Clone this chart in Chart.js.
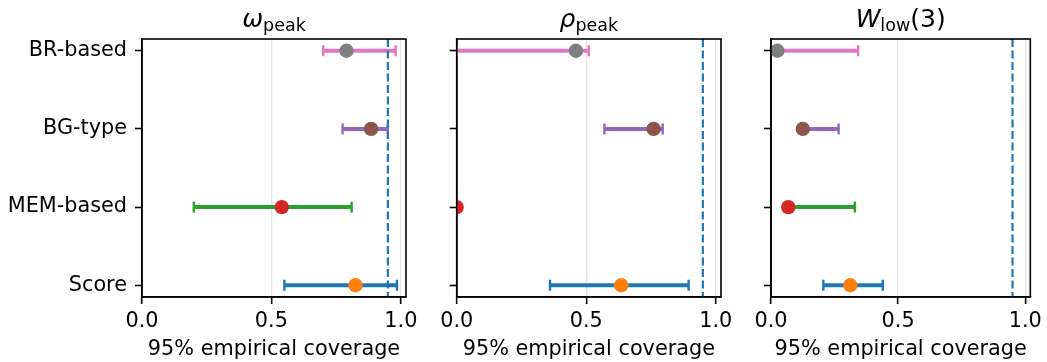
<!DOCTYPE html>
<html>
<head>
<meta charset="utf-8">
<script src="https://cdn.jsdelivr.net/npm/chart.js@4.4.1/dist/chart.umd.min.js"></script>
<style>
    html, body { margin: 0; padding: 0; background: #fff; }
    #figure { position: relative; width: 1047px; height: 362px; }
    #figure canvas { position: absolute; left: 0; top: 0; }
</style>
</head>
<body>
<div id="figure">
    <canvas id="panel-omega" width="1047" height="362"></canvas>
    <canvas id="panel-rho" width="1047" height="362"></canvas>
    <canvas id="panel-wlow" width="1047" height="362"></canvas>
</div>
<script>
const categories = ["BR-based", "BG-type", "MEM-based", "Score"];
const lineColors = ["#e377c2", "#9467bd", "#2ca02c", "#1f77b4"];
const markerColors = ["#7f7f7f", "#8c564b", "#d62728", "#ff7f0e"];
const xTicks = [0, 0.5, 1.0];
const nominalCoverage = 0.95;

const omegaEstimate = [0.79, 0.885, 0.54, 0.825];
const omegaLower = [0.70, 0.775, 0.20, 0.55];
const omegaUpper = [0.98, 0.95, 0.81, 0.985];

const rhoEstimate = [0.46, 0.76, 0.0, 0.635];
const rhoLower = [0.0, 0.57, 0.0, 0.36];
const rhoUpper = [0.51, 0.795, 0.0, 0.895];

const wlowEstimate = [0.025, 0.125, 0.068, 0.312];
const wlowLower = [0.0, 0.12, 0.068, 0.206];
const wlowUpper = [0.343, 0.266, 0.33, 0.44];

const FONT = "DejaVu Sans";
const TICK_SIZE = 20.8;
const TITLE_SIZE = 25;
const SUB_SIZE = 17.5;
const Y_MIN = -0.15;
const Y_MAX = 3.15;

// axes frame on all four sides, drawn over the data like matplotlib spines
const framePlugin = {
    id: "frame",
    afterDraw(chart) {
        const { ctx, chartArea } = chart;
        ctx.save();
        ctx.strokeStyle = "#000";
        ctx.lineWidth = 1.6;
        ctx.strokeRect(chartArea.left, chartArea.top,
            chartArea.right - chartArea.left, chartArea.bottom - chartArea.top);
        ctx.restore();
    }
};

// title with a mathtext-like subscript
const mathTitlePlugin = {
    id: "mathTitle",
    afterDraw(chart, args, opts) {
        if (!opts.parts) {
            return;
        }

        const { ctx, chartArea } = chart;
        const pieces = opts.parts.map(part => {
            const size = part.sub ? SUB_SIZE : TITLE_SIZE;
            const style = part.italic ? "italic " : "";
            return { text: part.text, sub: part.sub, font: `${style}${size}px "${FONT}"` };
        });

        ctx.save();
        let total = 0;
        pieces.forEach(piece => {
            ctx.font = piece.font;
            piece.width = ctx.measureText(piece.text).width;
            total += piece.width;
        });

        let x = (chartArea.left + chartArea.right) / 2 - total / 2;
        ctx.fillStyle = "#000";
        ctx.textBaseline = "alphabetic";
        ctx.textAlign = "left";
        pieces.forEach(piece => {
            ctx.font = piece.font;
            ctx.fillText(piece.text, x, piece.sub ? opts.baseline + 3.5 : opts.baseline);
            x += piece.width;
        });
        ctx.restore();
    }
};

function renderPanel(canvasId, panel) {
    const intervalSets = categories.map((name, i) => ({
        label: name,
        data: [{ x: panel.lower[i], y: i }, { x: panel.upper[i], y: i }],
        showLine: true,
        borderColor: lineColors[i],
        borderWidth: 4,
        pointStyle: "line",
        pointRotation: 90,
        pointRadius: 5.5,
        pointBorderWidth: 2.4,
        pointBorderColor: lineColors[i],
        order: 2,
        clip: 0
    }));

    const markerSet = {
        label: "estimate",
        data: panel.estimate.map((value, i) => ({ x: value, y: i })),
        showLine: false,
        pointRadius: 7.2,
        pointBackgroundColor: markerColors,
        pointBorderColor: markerColors,
        pointBorderWidth: 0,
        order: 1,
        clip: 0
    };

    const nominalSet = {
        label: "nominal",
        data: [{ x: nominalCoverage, y: Y_MIN }, { x: nominalCoverage, y: Y_MAX }],
        showLine: true,
        borderColor: "#1f77b4",
        borderWidth: 2.2,
        borderDash: [8, 3.5],
        pointRadius: 0,
        order: 0
    };

    new Chart(document.getElementById(canvasId), {
        type: "scatter",
        data: {
            datasets: [nominalSet, markerSet, ...intervalSets]
        },
        plugins: [framePlugin, mathTitlePlugin],
        options: {
            responsive: false,
            animation: false,
            events: [],
            layout: {
                padding: { left: panel.padLeft, right: panel.padRight, top: 39, bottom: 0 }
            },
            plugins: {
                legend: { display: false },
                tooltip: { enabled: false },
                mathTitle: { parts: panel.title, baseline: 27 }
            },
            scales: {
                x: {
                    type: "linear",
                    min: 0,
                    max: 1.02,
                    afterBuildTicks(scale) {
                        scale.ticks = xTicks.map(value => ({ value }));
                    },
                    afterFit(scale) {
                        scale.height = 65;
                    },
                    ticks: {
                        color: "#000",
                        padding: 5,
                        maxRotation: 0,
                        font: { family: FONT, size: TICK_SIZE },
                        callback(value) {
                            return value.toFixed(1);
                        }
                    },
                    grid: {
                        color: "#e3e3e3",
                        lineWidth: 1.3,
                        tickColor: "#000",
                        tickWidth: 1.6,
                        tickLength: 7
                    },
                    border: { display: true, color: "#000", width: 1.6 },
                    title: {
                        display: true,
                        text: "95% empirical coverage",
                        color: "#000",
                        padding: { top: 0, bottom: 0 },
                        font: { family: FONT, size: TICK_SIZE }
                    }
                },
                y: {
                    type: "linear",
                    min: Y_MIN,
                    max: Y_MAX,
                    reverse: true,
                    afterBuildTicks(scale) {
                        scale.ticks = categories.map((name, i) => ({ value: i }));
                    },
                    afterFit(scale) {
                        scale.width = panel.axisWidth;
                    },
                    ticks: {
                        color: "#000",
                        padding: 8,
                        font: { family: FONT, size: TICK_SIZE },
                        callback(value) {
                            return panel.showLabels ? categories[value] : "";
                        }
                    },
                    grid: {
                        drawOnChartArea: false,
                        tickColor: "#000",
                        tickWidth: 1.6,
                        tickLength: 7
                    },
                    border: { display: true, color: "#000", width: 1.6 }
                }
            }
        }
    });
}

renderPanel("panel-omega", {
    title: [{ text: "ω", italic: true }, { text: "peak", sub: true }],
    estimate: omegaEstimate,
    lower: omegaLower,
    upper: omegaUpper,
    showLabels: true,
    axisWidth: 142,
    padLeft: 0,
    padRight: 641
});

renderPanel("panel-rho", {
    title: [{ text: "ρ", italic: true }, { text: "peak", sub: true }],
    estimate: rhoEstimate,
    lower: rhoLower,
    upper: rhoUpper,
    showLabels: false,
    axisWidth: 20,
    padLeft: 436.7,
    padRight: 326
});

renderPanel("panel-wlow", {
    title: [{ text: "W", italic: true }, { text: "low", sub: true }, { text: "(3)" }],
    estimate: wlowEstimate,
    lower: wlowLower,
    upper: wlowUpper,
    showLabels: false,
    axisWidth: 20,
    padLeft: 751,
    padRight: 12
});
</script>
</body>
</html>
